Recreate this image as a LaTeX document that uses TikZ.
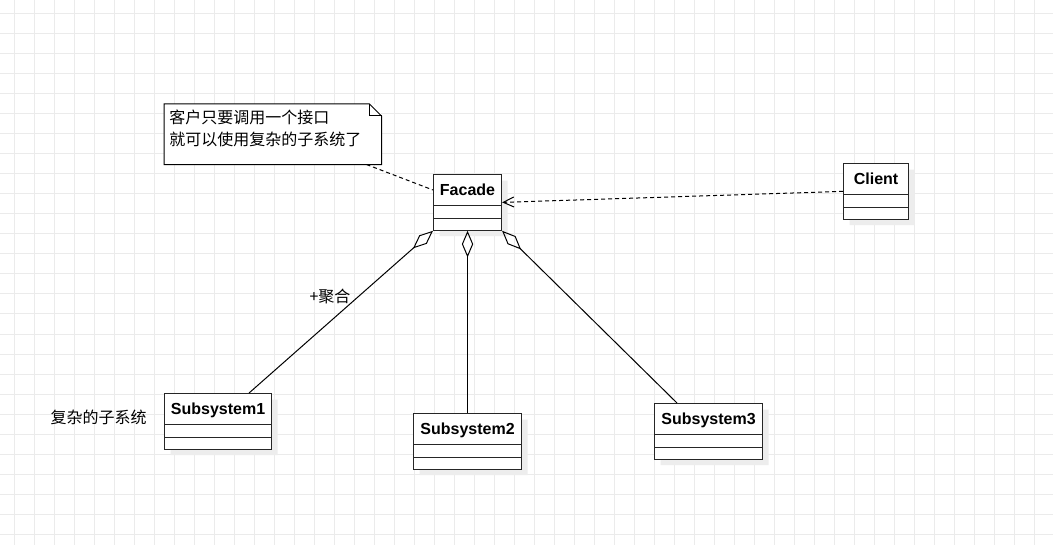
\documentclass[tikz,border=0pt]{standalone}
\usepackage{fontspec}
\newfontfamily\cjk{Noto Sans CJK SC}
\newfontfamily\umlfont{Liberation Sans}
\usetikzlibrary{arrows.meta,positioning,shapes.multipart,shadows,calc}
\definecolor{gridgray}{HTML}{EBEBEB}
\definecolor{shadowgray}{HTML}{EDEDED}
\tikzset{
  uml/class/.style={draw=black!85, line width=0.8pt, fill=white, rectangle split, rectangle split parts=3,
    rectangle split empty part height=4.3pt, rectangle split empty part depth=0pt,
    inner xsep=3pt, inner ysep=2pt, text height=13.5pt, text depth=5.25pt, anchor=north west,
    font=\umlfont\bfseries\fontsize{12pt}{14pt}\selectfont,
    drop shadow={shadow xshift=4.5pt, shadow yshift=-4.5pt, fill=shadowgray, opacity=1}},
  uml/note/.style={draw=none, fill=white, minimum width=162.75pt, minimum height=45pt, inner sep=0pt, anchor=north west},
  uml/notetext/.style={font=\cjk\fontsize{12pt}{16pt}\selectfont, align=left, inner sep=0pt, anchor=north west},
  uml/label/.style={font=\cjk\fontsize{12pt}{14pt}\selectfont, inner sep=0pt},
  uml/line/.style={line width=0.75pt, draw=black},
  uml/aggr/.style={uml/line, {Diamond[open, length=20pt, width=8.5pt]}-},
  uml/dep/.style={uml/line, dash pattern=on 3pt off 2.25pt, -{Straight Barb[length=8pt, width=7.5pt]}},
  uml/notelink/.style={uml/line, dash pattern=on 3pt off 2.25pt},
  gridline/.style={draw=gridgray, line width=0.75pt}
}
\begin{document}
\begin{tikzpicture}[x=0.75pt, y=-0.75pt]
\useasboundingbox (0,0) rectangle (1053,545);
\fill[white] (0,0) rectangle (1053,545);
% grid
\foreach \gx in {14,34,...,1053} \draw[gridline] (\gx,0) -- (\gx,545);
\foreach \gy in {14,34,...,545} \draw[gridline] (0,\gy) -- (1053,\gy);

% note
\node[uml/note] (note) at (164,104) {};
\draw[uml/line] (note.north west) -- ([xshift=-9pt]note.north east) -- ([yshift=-9pt]note.north east) -- (note.south east) -- (note.south west) -- cycle;
\draw[uml/line] ([xshift=-9pt]note.north east) |- ([yshift=-9pt]note.north east);
\node[uml/notetext] (notetxt) at (169,110) {客户只要调用一个接口\\就可以使用复杂的子系统了};

% classes
\node[uml/class, minimum width=51pt] (facade) at (433,174) {Facade\nodepart{two}\nodepart{three}};
\node[uml/class, minimum width=48.75pt] (client) at (843,163) {Client\nodepart{two}\nodepart{three}};
\node[uml/class, minimum width=80.25pt] (s1) at (164,393) {Subsystem1\nodepart{two}\nodepart{three}};
\node[uml/class, minimum width=81pt] (s2) at (413,413) {Subsystem2\nodepart{two}\nodepart{three}};
\node[uml/class, minimum width=81pt] (s3) at (654,403) {Subsystem3\nodepart{two}\nodepart{three}};

\node[uml/label] (sublabel) at (98.5,417.5) {复杂的子系统};
\node[uml/label] (agglabel) at (330,296) {+聚合};

% connectors
\draw[uml/notelink] ([xshift=-11.25pt]note.south east) -- ([yshift=-12pt]facade.north west);
\draw[uml/dep] (client.west) -- (facade.east);
\draw[uml/aggr] (facade.south west) -- ([xshift=-17.25pt]s1.north east);
\draw[uml/aggr] (facade.south) -- (s2.north);
\draw[uml/aggr] (facade.south east) -- ([xshift=17.25pt]s3.north west);
\end{tikzpicture}
\end{document}
